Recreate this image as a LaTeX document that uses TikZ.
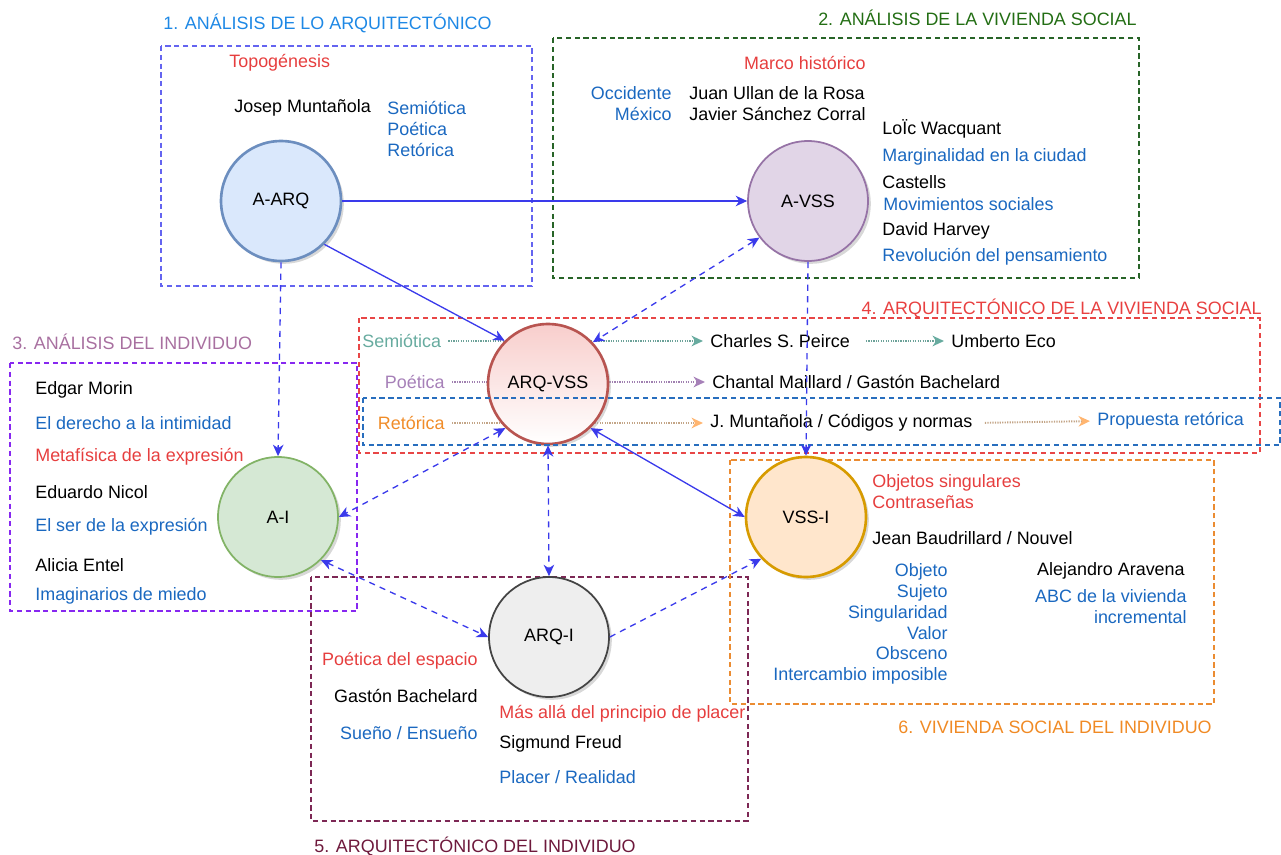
\documentclass[tikz,border=0pt]{standalone}
\usepackage{fontspec}
\setmainfont{Liberation Sans}
\usepackage{tikz}
\usetikzlibrary{arrows.meta,shadows,positioning}

\definecolor{tRed}{RGB}{230,62,62}
\definecolor{tBlue}{RGB}{26,104,192}
\definecolor{lnBlue}{RGB}{58,58,235}
\definecolor{hdBlue}{RGB}{30,136,229}
\definecolor{hdGreen}{RGB}{35,110,20}
\definecolor{hdMauve}{RGB}{168,112,160}
\definecolor{hdRed}{RGB}{232,64,64}
\definecolor{hdMaroon}{RGB}{110,25,60}
\definecolor{hdOrange}{RGB}{240,138,36}
\definecolor{zBlue}{RGB}{100,100,240}
\definecolor{zGreen}{RGB}{40,100,40}
\definecolor{zPurple}{RGB}{135,40,240}
\definecolor{zRed}{RGB}{232,70,70}
\definecolor{zRow}{RGB}{40,110,190}
\definecolor{zMaroon}{RGB}{125,40,85}
\definecolor{zOrange}{RGB}{235,140,50}
\definecolor{fBlue}{HTML}{DAE8FC}\definecolor{sBlue}{HTML}{6C8EBF}
\definecolor{fPurple}{HTML}{E1D5E7}\definecolor{sPurple}{HTML}{9673A6}
\definecolor{fRed}{HTML}{F8CECC}\definecolor{sRed}{HTML}{B85450}
\definecolor{fGreen}{HTML}{D5E8D4}\definecolor{sGreen}{HTML}{82B366}
\definecolor{fOrange}{HTML}{FFE6CC}\definecolor{sOrange}{HTML}{D79B00}
\definecolor{fGray}{HTML}{EEEEEE}\definecolor{sGray}{HTML}{444444}
\definecolor{semC}{HTML}{67AB9F}
\definecolor{poeC}{HTML}{A680B8}
\definecolor{retC}{RGB}{240,140,40}
\definecolor{retLn}{RGB}{195,165,135}
\definecolor{retTip}{HTML}{FFB570}

\tikzset{
  sub/.style={circle,draw,line width=1pt,minimum size=2.4cm,inner sep=0pt,
    drop shadow={shadow xshift=1.6pt,shadow yshift=-1.6pt,fill=black!30}},
  zone/.style={line width=0.7pt,dash pattern=on 3pt off 2pt},
  conn/.style={draw=lnBlue,line width=0.75pt,->},
  dconn/.style={conn,dash pattern=on 3.5pt off 3pt},
  dotln/.style={line width=1.1pt,dash pattern=on 0.7pt off 0.7pt,
    shorten <=4pt,shorten >=4pt},
}

\begin{document}
\begin{tikzpicture}[x=0.02cm,y=-0.02cm,
    every node/.style={font=\fontsize{10.2}{11.9}\selectfont,inner sep=0pt},
    >={Stealth[length=6.5pt,width=6pt,inset=2pt]}]
  \useasboundingbox (0,0) rectangle (1281,855);
  \draw[zone,draw=zBlue] (161,46) rectangle (532,286);
  \draw[zone,draw=zGreen] (553,38) rectangle (1139,278);
  \draw[zone,draw=zPurple] (10,363) rectangle (357,611);
  \draw[zone,draw=zRed] (359,318) rectangle (1260,453);
  \draw[zone,draw=zMaroon] (311,577) rectangle (748,821);
  \draw[zone,draw=zOrange] (730,460) rectangle (1214,704);

  \node[anchor=west,text=hdBlue] (head1) at (163,23) {1. ANÁLISIS DE LO ARQUITECTÓNICO};
  \node[anchor=east,text=hdGreen] (head2) at (1137,18) {2. ANÁLISIS DE LA VIVIENDA SOCIAL};
  \node[anchor=west,text=hdMauve] (head3) at (12,342) {3. ANÁLISIS DEL INDIVIDUO};
  \node[anchor=east,text=hdRed] (head4) at (1262,308) {4. ARQUITECTÓNICO DE LA VIVIENDA SOCIAL};
  \node[anchor=west,text=hdMaroon] (head5) at (314,846) {5. ARQUITECTÓNICO DEL INDIVIDUO};
  \node[anchor=east,text=hdOrange] (head6) at (1212,727) {6. VIVIENDA SOCIAL DEL INDIVIDUO};

  \node[anchor=west,text=tRed] (topog) at (229,63) {Topogénesis};
  \node[anchor=west] (muntanola) at (234,108) {Josep Muntañola};
  \node[anchor=west,text=tBlue,align=left] (tres) at (387,129)
  {Semiótica\\Poética\\Retórica};

  \node[anchor=east,text=tRed] (marco) at (866,63) {Marco histórico};
  \node[anchor=east,text=tBlue] (occid) at (672,93) {Occidente};
  \node[anchor=east,text=tBlue] (mexico) at (672,114) {México};
  \node[anchor=west] (ullan) at (689,93) {Juan Ullan de la Rosa};
  \node[anchor=west] (sanchez) at (689,114) {Javier Sánchez Corral};
  \node[anchor=west] (wacq) at (882,129) {LoÏc Wacquant};
  \node[anchor=west,text=tBlue] (margin) at (882,157) {Marginalidad en la ciudad};
  \node[anchor=west] (castells) at (882,182) {Castells};
  \node[anchor=west,text=tBlue] (movim) at (883,204) {Movimientos sociales};
  \node[anchor=west] (harvey) at (882,231) {David Harvey};
  \node[anchor=west,text=tBlue] (revol) at (882,257) {Revolución del pensamiento};

  \node[anchor=west] (morin) at (35,390) {Edgar Morin};
  \node[anchor=west,text=tBlue] (derecho) at (35,423) {El derecho a la intimidad};
  \node[anchor=west,text=tRed] (metaf) at (35,457) {Metafísica de la expresión};
  \node[anchor=west] (nicol) at (35,492) {Eduardo Nicol};
  \node[anchor=west,text=tBlue] (serexp) at (35,527) {El ser de la expresión};
  \node[anchor=west] (entel) at (35,565) {Alicia Entel};
  \node[anchor=west,text=tBlue] (miedo) at (35,596) {Imaginarios de miedo};

  \node[anchor=west,text=semC] (semio) at (362,341) {Semiótica};
  \node[anchor=east,text=poeC] (poet) at (445,382) {Poética};
  \node[anchor=east,text=retC] (retor) at (445,423) {Retórica};
  \node[anchor=west] (peirce) at (710,341) {Charles S. Peirce};
  \node[anchor=west] (eco) at (951,341) {Umberto Eco};
  \node[anchor=west] (maillard) at (712,382) {Chantal Maillard / Gastón Bachelard};
  \node[anchor=west] (codigos) at (710,423) {J. Muntañola / Códigos y normas};
  \node[anchor=west,text=tBlue] (propuesta) at (1097,421) {Propuesta retórica};

  \node[anchor=east,text=tRed] (poesp) at (478,661) {Poética del espacio};
  \node[anchor=east] (bachel) at (478,696) {Gastón Bachelard};
  \node[anchor=east,text=tBlue] (sueno) at (478,733) {Sueño / Ensueño};
  \node[anchor=west,text=tRed] (masalla) at (499,714) {Más allá del principio de placer};
  \node[anchor=west] (freud) at (499,744) {Sigmund Freud};
  \node[anchor=west,text=tBlue] (placer) at (499,777) {Placer / Realidad};

  \node[anchor=west,text=tRed,align=left] (objetos) at (872,492)
  {Objetos singulares\\Contraseñas};
  \node[anchor=west] (baudr) at (872,538) {Jean Baudrillard / Nouvel};
  \node[anchor=north east,text=tBlue,align=right] (objeto) at (948,563)
  {Objeto\\Sujeto\\Singularidad\\Valor\\Obsceno\\Intercambio imposible};
  \node[anchor=east] (aravena) at (1185,571) {Alejandro Aravena};
  \node[anchor=north east,text=tBlue,align=right] (abc) at (1187,589)
  {ABC de la vivienda\\incremental};

  \draw[dotln,draw=semC!80!gray,-{Stealth[length=6.5pt,width=6pt,inset=2pt,color=semC]}]
  (semio.east) -- (peirce.west);
  \draw[dotln,draw=semC!80!gray,shorten <=9pt,-{Stealth[length=6.5pt,width=6pt,inset=2pt,color=semC]}]
  (peirce.east) -- (eco.west);
  \draw[dotln,draw=poeC!85!gray,-{Stealth[length=6.5pt,width=6pt,inset=2pt,color=poeC]}]
  (poet.east) -- (maillard.west);
  \draw[dotln,draw=retLn,-{Stealth[length=6.5pt,width=6pt,inset=2pt,color=retTip]}]
  (retor.east) -- (codigos.west);
  \draw[dotln,draw=retLn,shorten <=7pt,-{Stealth[length=6.5pt,width=6pt,inset=2pt,color=retTip]}]
  (codigos.east) -- (propuesta.west);

  \node[sub,draw=sBlue,fill=fBlue,line width=1.5pt] (aarq) at (281,201) {A-ARQ};
  \node[sub,draw=sPurple,fill=fPurple] (avss) at (808,201) {A-VSS};
  \node[sub,draw=sRed,top color=fRed,bottom color=white,line width=1.5pt] (arqvss) at (548,384) {ARQ-VSS};
  \node[sub,draw=sGreen,fill=fGreen] (ai) at (278,517) {A-I};
  \node[sub,draw=sOrange,fill=fOrange,line width=1.5pt] (vssi) at (806,517) {VSS-I};
  \node[sub,draw=sGray,fill=fGray] (arqi) at (549,637) {ARQ-I};

  \draw[zone,draw=zRow] (363,398) rectangle (1280,445);

  \draw[conn] (aarq.east) -- (avss.west);
  \draw[conn] (aarq.-45) -- (arqvss.135);
  \draw[dconn] (aarq.south) -- (ai.north);
  \draw[dconn,<->] (avss.217) -- (arqvss.43);
  \draw[dconn] (avss.south) -- (vssi.north);
  \draw[dconn,<->] (arqvss.226) -- (ai.east);
  \draw[dconn,<->] (arqvss.south) -- (arqi.north);
  \draw[conn,<->] (arqvss.314) -- (vssi.west);
  \draw[dconn,<->] (ai.-45) -- (arqi.west);
  \draw[dconn] (arqi.east) -- (vssi.223);
\end{tikzpicture}
\end{document}
